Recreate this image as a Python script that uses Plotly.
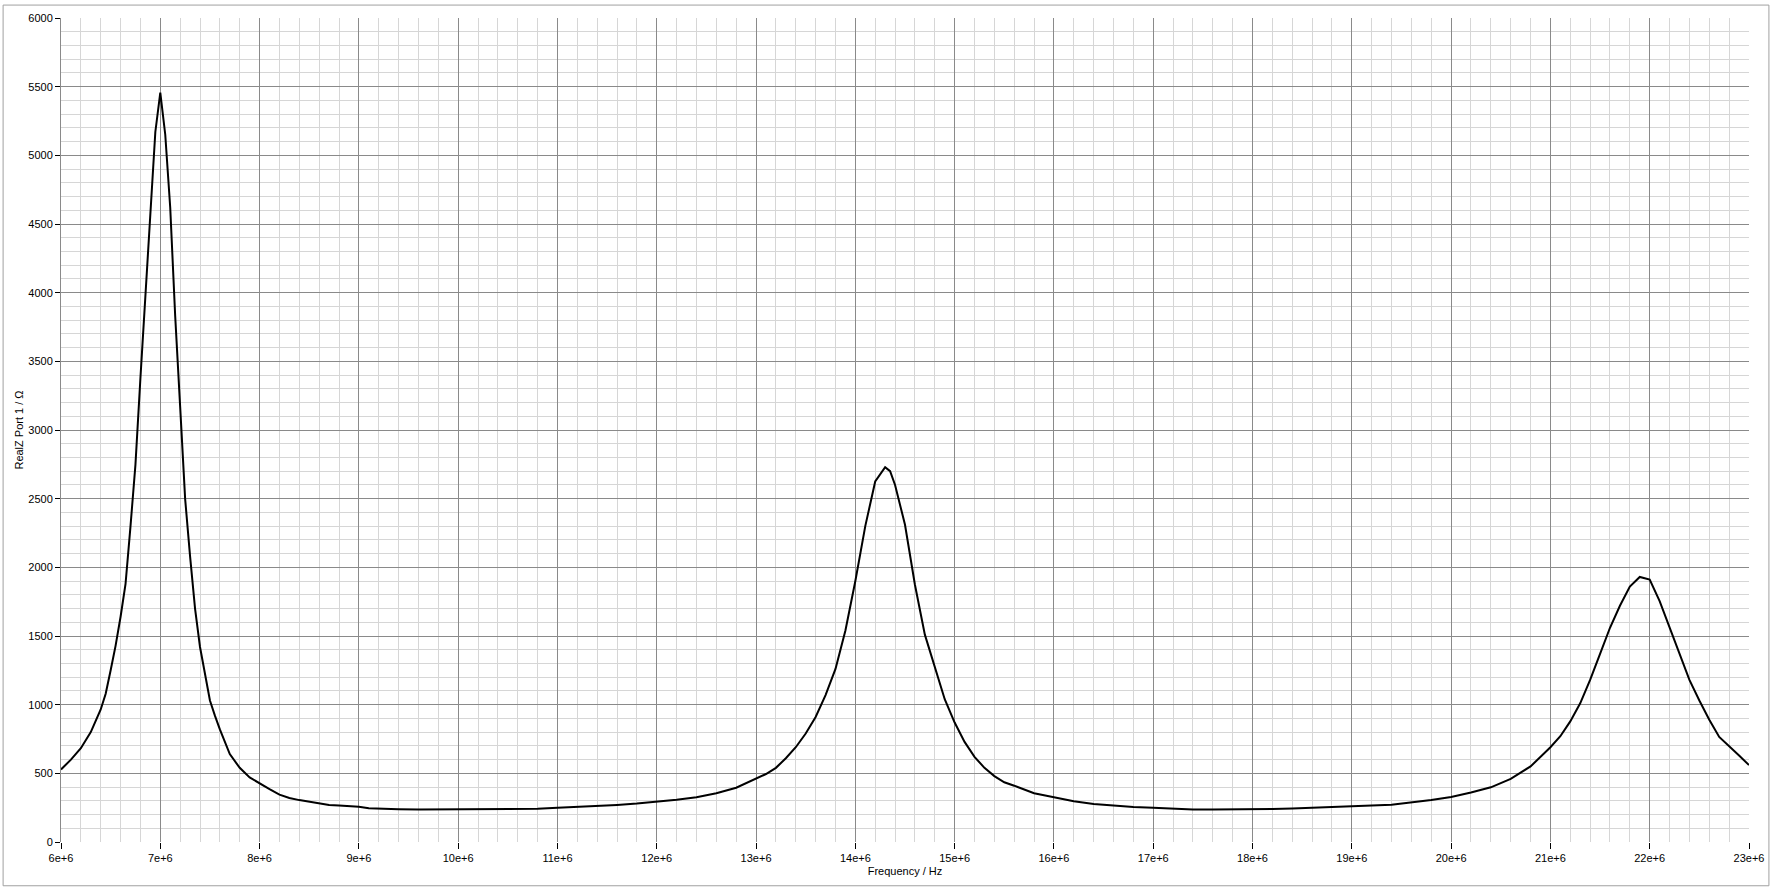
import plotly.graph_objects as go

frequency_hz = [
    6.00e6, 6.10e6, 6.20e6, 6.30e6, 6.40e6, 6.45e6, 6.50e6, 6.55e6, 6.60e6, 6.65e6,
    6.70e6, 6.75e6, 6.80e6, 6.85e6, 6.90e6, 6.95e6, 7.00e6, 7.05e6, 7.10e6, 7.15e6,
    7.20e6, 7.25e6, 7.30e6, 7.35e6, 7.40e6, 7.45e6, 7.50e6, 7.55e6, 7.60e6, 7.70e6,
    7.80e6, 7.90e6, 8.00e6, 8.10e6, 8.20e6, 8.30e6, 8.40e6, 8.50e6, 8.60e6, 8.70e6,
    8.80e6, 8.90e6, 9.00e6, 9.10e6, 9.20e6, 9.40e6, 9.60e6, 9.80e6, 10.00e6, 10.20e6,
    10.40e6, 10.60e6, 10.80e6, 11.00e6, 11.20e6, 11.40e6, 11.60e6, 11.80e6, 12.00e6, 12.20e6,
    12.40e6, 12.60e6, 12.80e6, 13.00e6, 13.10e6, 13.20e6, 13.30e6, 13.40e6, 13.50e6, 13.60e6,
    13.70e6, 13.80e6, 13.90e6, 14.00e6, 14.10e6, 14.20e6, 14.30e6, 14.35e6, 14.40e6, 14.50e6,
    14.60e6, 14.70e6, 14.80e6, 14.90e6, 15.00e6, 15.10e6, 15.20e6, 15.30e6, 15.40e6, 15.50e6,
    15.60e6, 15.70e6, 15.80e6, 15.90e6, 16.00e6, 16.20e6, 16.40e6, 16.60e6, 16.80e6, 17.00e6,
    17.20e6, 17.40e6, 17.60e6, 17.80e6, 18.00e6, 18.20e6, 18.40e6, 18.60e6, 18.80e6, 19.00e6,
    19.20e6, 19.40e6, 19.60e6, 19.80e6, 20.00e6, 20.20e6, 20.40e6, 20.60e6, 20.80e6, 21.00e6,
    21.10e6, 21.20e6, 21.30e6, 21.40e6, 21.50e6, 21.60e6, 21.70e6, 21.80e6, 21.90e6, 22.00e6,
    22.10e6, 22.20e6, 22.30e6, 22.40e6, 22.50e6, 22.60e6, 22.70e6, 22.80e6, 22.90e6, 23.00e6,
]
real_z_ohm = [
    528, 600, 683, 800, 965, 1080, 1250, 1430, 1640, 1880,
    2300, 2750, 3380, 4000, 4620, 5170, 5456, 5150, 4620, 3830,
    3170, 2500, 2080, 1700, 1420, 1230, 1030, 920, 820, 640,
    540, 470, 425, 385, 345, 320, 305, 292, 280, 270,
    265, 260, 257, 245, 242, 239, 237, 237, 237, 237,
    237, 237, 242, 249, 255, 263, 270, 280, 292, 308,
    326, 355, 395, 461, 495, 540, 610, 690, 790, 910,
    1070, 1260, 1540, 1900, 2300, 2625, 2729, 2700, 2600, 2310,
    1873, 1510, 1270, 1040, 870, 729, 620, 540, 480, 435,
    410, 380, 355, 340, 326, 297, 277, 265, 255, 249,
    242, 237, 236, 236, 236, 240, 244, 248, 253, 258,
    265, 272, 286, 305, 328, 360, 398, 460, 550, 690,
    770, 878, 1010, 1180, 1370, 1560, 1720, 1860, 1930, 1911,
    1754, 1560, 1370, 1180, 1030, 890, 765, 700, 630, 560,
]

x_tick_values = [6e6, 7e6, 8e6, 9e6, 10e6, 11e6, 12e6, 13e6, 14e6, 15e6, 16e6,
                 17e6, 18e6, 19e6, 20e6, 21e6, 22e6, 23e6]
x_tick_labels = ["6e+6", "7e+6", "8e+6", "9e+6", "10e+6", "11e+6", "12e+6", "13e+6",
                 "14e+6", "15e+6", "16e+6", "17e+6", "18e+6", "19e+6", "20e+6",
                 "21e+6", "22e+6", "23e+6"]
y_tick_values = [0, 500, 1000, 1500, 2000, 2500, 3000, 3500, 4000, 4500, 5000, 5500, 6000]

FONT = "Liberation Sans"
MAJOR = "#8a8a8a"
MINOR = "#d6d6d6"

fig = go.Figure()
fig.add_trace(go.Scatter(
    x=frequency_hz, y=real_z_ohm, mode="lines",
    line=dict(color="black", width=2), showlegend=False, hoverinfo="x+y",
))

fig.update_layout(
    width=1776, height=891,
    margin=dict(l=61, r=26, t=14, b=49),
    paper_bgcolor="white", plot_bgcolor="white",
    font=dict(family=FONT, size=11, color="black"),
    showlegend=False,
)

fig.update_xaxes(
    range=[6e6, 23e6],
    tickmode="array", tickvals=x_tick_values, ticktext=x_tick_labels,
    showgrid=True, gridcolor=MAJOR, gridwidth=1,
    minor=dict(dtick=0.2e6, tick0=6e6, showgrid=True, gridcolor=MINOR, gridwidth=1, ticks=""),
    ticks="outside", ticklen=6, tickcolor="black", tickwidth=1,
    showline=False, zeroline=False,
    tickfont=dict(family=FONT, size=11, color="black"),
    title=dict(text="Frequency / Hz", font=dict(family=FONT, size=11, color="black"), standoff=4),
)
fig.update_yaxes(
    range=[0, 6000],
    tickmode="array", tickvals=y_tick_values,
    showgrid=True, gridcolor=MAJOR, gridwidth=1,
    minor=dict(dtick=100, tick0=0, showgrid=True, gridcolor=MINOR, gridwidth=1, ticks=""),
    ticks="outside", ticklen=5, tickcolor="black", tickwidth=1,
    showline=True, linecolor=MAJOR, linewidth=1,
    zeroline=False,
    tickfont=dict(family=FONT, size=11, color="black"),
    title=dict(text="RealZ Port 1 / \u03a9", font=dict(family=FONT, size=11, color="black"), standoff=2),
)

# outer frame around the whole chart control
fig.add_shape(type="rect", xref="paper", yref="paper",
              x0=-0.0343, x1=1.0118, y0=-0.0531, y1=1.0157,
              line=dict(color="#a0a0a0", width=1), fillcolor="rgba(0,0,0,0)", layer="below")

fig.write_html(
    "out.html",
    config={"displayModeBar": False},
    post_script="document.body.style.margin='0';document.body.style.overflow='hidden';",
)
